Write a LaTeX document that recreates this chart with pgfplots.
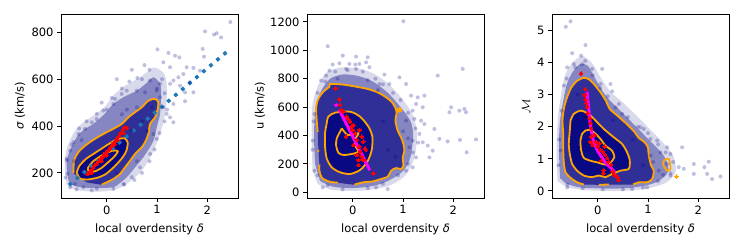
\documentclass[border=0pt]{standalone}
\usepackage{fontspec}
\setmainfont{DejaVu Sans}
\usepackage{pgfplots}
\pgfplotsset{compat=1.18}
\definecolor{navy}{HTML}{000080}
\definecolor{mplorange}{HTML}{FFA500}
\definecolor{tabblue}{HTML}{1F77B4}
\definecolor{mag}{HTML}{FF00FF}
\pgfplotsset{
  panel/.style={
    scale only axis, width=177pt, height=184pt, anchor=south west,
    xmin=-0.91, xmax=2.61, xtick={0,1,2},
    tick align=outside, major tick length=4pt,
    xtick pos=bottom, ytick pos=left,
    tick style={black, line width=0.9pt},
    axis line style={black, line width=0.9pt},
    tick label style={font=\fontsize{11.5}{13}\selectfont},
    label style={font=\fontsize{11.5}{13}\selectfont},
    /pgf/number format/assume math mode=true,
    /pgf/number format/1000 sep={},
    xlabel={local overdensity \textit{δ}},
    xlabel style={at={(axis description cs:0.5,-0.19)}, anchor=base},
  },
  env/.style={draw=none, fill=navy, fill opacity=#1, smooth, tension=0.5},
  cloud/.style={only marks, mark=*, mark size=2pt, mark options={line width=0pt, draw=navy, draw opacity=0, fill=navy, fill opacity=0.25}},
  cont/.style={mplorange, line width=1.8pt, smooth, tension=0.45, mark=none},
  reddots/.style={only marks, mark=*, mark size=1.8pt, mark options={line width=0pt, draw=red, fill=red}},
}
\begin{document}
\begin{tikzpicture}[x=1pt,y=1pt]
\useasboundingbox (0,0) rectangle (744,248);
% ---------------- Panel 1 ----------------
\begin{axis}[panel, at={(61pt,50pt)}, ymin=93, ymax=878, ytick={200,400,600,800},
  ylabel={\textit{σ} (km/s)}, ylabel style={at={(axis description cs:-0.232,0.5)}, anchor=center}]
\addplot[env=0.15] coordinates {(-0.8,150) (-0.84,230) (-0.8,300) (-0.66,370) (-0.5,410) (-0.3,440) (-0.05,480) (0.13,530) (0.35,570) (0.6,600) (0.8,630) (0.95,650) (1.15,620) (1.2,540) (1.15,440) (1.05,360) (0.9,280) (0.7,210) (0.5,170) (0.3,140) (0.1,125) (-0.2,120) (-0.55,125) (-0.72,135)};
\addplot[env=0.38] coordinates {(-0.76,167) (-0.8,230) (-0.76,281) (-0.6,352) (-0.45,385) (-0.27,409) (-0.05,450) (0.13,494) (0.35,525) (0.6,551) (0.8,585) (0.93,608) (1.06,580) (1.08,537) (1.06,452) (1.0,400) (0.93,338) (0.8,290) (0.73,267) (0.55,220) (0.4,182) (0.25,155) (0.13,139) (-0.2,135) (-0.53,139) (-0.7,150)};
\addplot[env=0.65] coordinates {(-0.664,199) (-0.650,252) (-0.565,288) (-0.431,316) (-0.266,341) (-0.068,366) (0.131,388) (0.298,409) (0.430,437) (0.563,459) (0.696,480) (0.827,508) (0.960,516) (1.026,501) (1.006,466) (0.960,437) (0.861,409) (0.827,366) (0.761,331) (0.696,310) (0.563,281) (0.463,252) (0.364,224) (0.264,196) (0.131,174) (0,160) (-0.1,150) (-0.4,160)};
\addplot[env=0.8] coordinates {(-0.597,201) (-0.545,230) (-0.411,260) (-0.213,288) (-0.014,316) (0.185,341) (0.350,348) (0.417,329) (0.384,291) (0.284,258) (0.151,227) (-0.014,196) (-0.179,180) (-0.378,172) (-0.531,176)};
\addplot[cloud] coordinates {(2.458,844) (1.955,804) (2.134,790) (2.187,796) (2.273,778) (1.007,727) (1.226,712) (1.358,700) (1.444,693) (1.908,729) (1.935,696) (1.126,672) (1.259,651) (1.590,651) (1.723,648) (1.855,636) (1.524,622) (1.425,608) (1.325,594) (1.060,580) (1.259,580) (1.458,572) (1.656,587) (1.557,544) (1.723,544) (1.557,506) (1.325,494) (1.126,480) (1.192,452) (1.325,416) (1.259,437) (1.060,523) (0.994,551) (0.861,594) (0.609,605) (0.762,544) (0.596,551) (0.397,551) (0.298,537) (0.165,516) (0.132,494) (-0.067,466) (-0.199,452) (-0.298,416) (-0.431,388) (-0.563,366) (-0.663,331) (-0.729,295) (-0.795,253) (-0.782,196) (0.994,345) (0.928,366) (0.861,281) (0.662,224) (0.497,182) (0.331,153) (0.132,132) (-0.199,132) (-0.464,139) (-0.630,153) (-0.729,139)
(-0.7,320) (-0.55,390) (-0.4,420) (-0.2,430) (0.0,470) (0.1,520) (0.3,560) (0.45,590) (0.7,600) (0.85,640) (1.1,600) (1.15,540) (1.2,470) (1.15,420) (1.05,370) (0.95,300) (0.85,250) (0.7,200) (0.55,170) (0.35,150) (-0.3,125) (-0.6,130) (-0.82,180) (-0.8,260) (0.2,600) (0.5,640) (0.75,660) (-0.1,500) (0.6,480) (0.3,450) (0.9,480) (1.0,560) (0.4,470) (0.7,420) (0.5,380) (-0.5,340) (-0.65,250) (0.6,250) (0.2,200) (0.8,380)};
\addplot[cont] coordinates {(-0.664,199) (-0.650,252) (-0.565,288) (-0.431,316) (-0.266,341) (-0.068,366) (0.131,388) (0.298,409) (0.430,437) (0.563,459) (0.696,480) (0.827,508) (0.960,516) (1.026,501) (1.006,466) (0.960,437) (0.861,409) (0.827,366) (0.761,331) (0.696,310) (0.563,281) (0.463,252) (0.364,224) (0.264,196) (0.131,174) (0,160) (-0.1,150)};
\addplot[cont] coordinates {(-0.597,201) (-0.545,230) (-0.411,260) (-0.213,288) (-0.014,316) (0.185,341) (0.350,348) (0.417,329) (0.384,291) (0.284,258) (0.151,227) (-0.014,196) (-0.179,180) (-0.378,172) (-0.531,176) (-0.597,201)};
\addplot[cont] coordinates {(-0.378,220) (-0.278,248) (-0.080,277) (0.119,295) (0.22,292) (0.151,270) (0.020,244) (-0.113,220) (-0.247,206) (-0.358,206) (-0.378,220)};
\addplot[reddots] coordinates {(-0.38,195) (-0.34,205) (-0.3,212) (-0.27,222) (-0.24,232) (-0.2,240) (-0.16,250) (-0.12,260) (-0.09,268) (-0.05,278) (-0.02,286) (0.02,294) (0.05,302) (0.08,310) (0.11,318) (0.14,328) (0.17,335) (0.2,345) (0.23,355) (0.26,365) (0.29,372) (0.32,385) (0.36,395) (0.4,392) (0.33,370) (0.15,320) (-0.1,250) (-0.3,200) (0.0,275) (0.22,340)};
\addplot[tabblue, line width=3.5pt, dash pattern=on 3.5pt off 5.7pt, mark=none] coordinates {(-0.75,148) (2.45,728)};
\end{axis}
% ---------------- Panel 2 ----------------
\begin{axis}[panel, at={(307pt,50pt)}, ymin=-40, ymax=1256, ytick={0,200,400,600,800,1000,1200},
  ylabel={u (km/s)}, ylabel style={at={(axis description cs:-0.266,0.5)}, anchor=center}]
\addplot[env=0.15] coordinates {(-0.8,150) (-0.82,400) (-0.8,620) (-0.68,760) (-0.5,850) (-0.2,880) (0.15,870) (0.45,830) (0.75,750) (1.0,650) (1.2,540) (1.28,400) (1.22,240) (1.05,120) (0.75,50) (0.4,20) (0.0,10) (-0.45,20) (-0.7,60)};
\addplot[env=0.38] coordinates {(-0.75,200) (-0.77,400) (-0.74,600) (-0.62,720) (-0.45,800) (-0.2,830) (0.1,820) (0.4,780) (0.7,700) (0.95,600) (1.15,500) (1.2,400) (1.15,250) (1.0,150) (0.7,80) (0.4,45) (0.0,30) (-0.4,40) (-0.65,80)};
\addplot[env=0.65] coordinates {(-0.696,423) (-0.716,505) (-0.729,587) (-0.696,650) (-0.597,704) (-0.464,744) (-0.451,763) (-0.199,759) (0.066,744) (0.298,728) (0.497,704) (0.662,669) (0.782,634) (0.848,594) (0.874,564) (0.848,505) (0.894,434) (0.961,387) (1.007,340) (1.027,293) (0.994,246) (1.007,188) (0.961,164) (0.861,171) (0.762,152) (0.696,110) (0.563,94) (0.397,77) (0.199,70) (0.033,54) (-0.298,68) (-0.464,75) (-0.610,101) (-0.663,152) (-0.663,195) (-0.683,293)};
\addplot[env=0.8] coordinates {(-0.518,486) (-0.485,533) (-0.352,561) (-0.054,568) (0.145,533) (0.311,463) (0.390,392) (0.377,298) (0.291,216) (0.145,157) (-0.054,129) (-0.253,141) (-0.418,176) (-0.518,239) (-0.551,322) (-0.551,416)};
\addplot[cloud] coordinates {(1.007,1205) (-0.497,1029) (-0.199,963) (0.066,956) (0.298,951) (-0.265,909) (-0.066,904) (0.132,904) (0.265,916) (-0.464,857) (-0.133,869) (0.066,869) (0.331,881) (0.629,829) (2.187,869) (1.690,822) (0.928,810) (1.060,763) (0.729,763) (0.530,763) (1.159,681) (1.292,669) (1.425,681) (1.392,599) (1.259,622) (1.192,575) (1.060,505) (1.226,517) (1.358,505) (1.425,481) (1.955,599) (1.922,564) (2.120,575) (2.220,587) (2.253,564) (1.624,446) (1.723,376) (1.325,411) (1.192,364) (1.392,352) (1.491,329) (1.888,359) (2.134,369) (2.452,373) (2.266,282) (1.524,246) (1.590,293) (1.259,246) (1.126,317) (1.192,176) (1.060,152) (0.696,23) (0.464,35) (-0.597,35) (-0.762,152) (-0.795,364) (-0.762,552) (-0.630,787) (-0.530,822)
(-0.8,300) (-0.78,500) (-0.7,700) (-0.55,780) (-0.35,850) (-0.1,860) (0.2,850) (0.45,800) (0.6,760) (0.8,700) (0.95,650) (1.1,560) (1.25,450) (1.3,350) (1.2,280) (1.1,200) (0.9,120) (0.6,60) (0.3,30) (-0.2,20) (-0.5,50) (-0.7,120) (0.5,720) (0.05,900) (-0.4,900) (1.0,430) (0.85,250) (1.1,380) (0.7,300) (0.6,500) (-0.3,800) (0.3,790)};
\addplot[cont] coordinates {(-0.696,423) (-0.716,505) (-0.729,587) (-0.696,650) (-0.597,704) (-0.464,744) (-0.451,763) (-0.199,759) (0.066,744) (0.298,728) (0.497,704) (0.662,669) (0.782,634) (0.848,594) (0.874,564) (0.848,505) (0.894,434) (0.961,387) (1.007,340) (1.027,293) (0.994,246) (1.007,188) (0.961,164) (0.861,171) (0.762,152) (0.696,110) (0.563,94) (0.397,77) (0.199,70) (0.033,54)};
\addplot[cont] coordinates {(-0.298,68) (-0.464,75) (-0.610,101) (-0.663,152) (-0.663,195)};
\addplot[cont] coordinates {(-0.69,283) (-0.683,300)};
\addplot[only marks, mark=*, mark size=2.2pt, mark options={line width=0pt, draw=mplorange, fill=mplorange}] coordinates {(0.93,580)};
\addplot[cont] coordinates {(-0.518,486) (-0.485,533) (-0.352,561) (-0.054,568) (0.145,533) (0.311,463) (0.390,392) (0.377,298) (0.291,216) (0.145,157) (-0.054,129) (-0.253,141) (-0.418,176) (-0.518,239) (-0.551,322) (-0.551,416) (-0.518,486)};
\addplot[cont] coordinates {(-0.219,451) (-0.099,404) (0.112,416) (0.046,373) (0.060,321) (0.112,286) (-0.020,270) (-0.187,263) (-0.286,279) (-0.332,333) (-0.318,380) (-0.252,427) (-0.219,451)};
\addplot[reddots] coordinates {(-0.339,733) (-0.266,655) (-0.253,615) (-0.219,580) (-0.186,568) (-0.120,533) (-0.087,514) (-0.054,498) (-0.021,463) (0.012,474) (-0.001,439) (0.132,439) (0.046,416) (0.178,392) (-0.133,394) (0.079,369) (0.211,357) (0.012,333) (0.132,322) (0.244,310) (0.145,286) (0.079,263) (0.178,251) (0.112,228) (0.211,228) (0.112,192) (0.410,134) (0.264,298)};
\addplot[mag, line width=3pt, mark=none] coordinates {(-0.27,582) (0.34,155)};
\addplot[only marks, mark=*, mark size=1.6pt, mark options={line width=0pt, draw=mag, fill=mag}] coordinates {(-0.33,617)};
\end{axis}
% ---------------- Panel 3 ----------------
\begin{axis}[panel, at={(552pt,50pt)}, ymin=-0.22, ymax=5.51, ytick={0,1,2,3,4,5},
  ylabel={$\mathcal{M}$}, ylabel style={at={(axis description cs:-0.147,0.5)}, anchor=center}]
\addplot[env=0.15] coordinates {(-0.8,0.3) (-0.82,1.2) (-0.8,2.1) (-0.75,2.8) (-0.65,3.6) (-0.5,4.0) (-0.3,4.2) (-0.1,3.95) (0.05,3.55) (0.25,3.1) (0.5,2.75) (0.8,2.3) (1.05,1.9) (1.3,1.5) (1.5,1.1) (1.55,0.6) (1.35,0.25) (0.9,0.05) (0.4,0.0) (-0.2,0.02) (-0.6,0.1)};
\addplot[env=0.38] coordinates {(-0.75,0.4) (-0.77,1.2) (-0.76,2.0) (-0.71,2.6) (-0.62,3.3) (-0.5,3.7) (-0.35,3.95) (-0.2,3.9) (-0.05,3.5) (0.1,3.1) (0.25,2.8) (0.45,2.5) (0.7,2.1) (0.95,1.7) (1.2,1.3) (1.35,1.0) (1.4,0.6) (1.2,0.3) (0.9,0.15) (0.5,0.08) (0.0,0.08) (-0.4,0.12) (-0.65,0.25)};
\addplot[env=0.65] coordinates {(-0.277,0.20) (-0.410,0.27) (-0.542,0.41) (-0.642,0.58) (-0.675,0.89) (-0.688,1.36) (-0.688,1.78) (-0.701,2.19) (-0.675,2.55) (-0.622,2.86) (-0.529,3.21) (-0.410,3.43) (-0.277,3.52) (-0.178,3.48) (-0.079,3.33) (0.041,3.10) (0.153,2.83) (0.240,2.55) (0.385,2.35) (0.571,2.09) (0.717,1.86) (0.816,1.65) (0.929,1.52) (0.995,1.36) (1.015,1.10) (1.061,0.79) (1.114,0.63) (1.081,0.37) (0.982,0.27) (0.816,0.27) (0.703,0.20) (0.22,0.20) (0.021,0.19)};
\addplot[env=0.8] coordinates {(-0.542,2.19) (-0.476,2.40) (-0.344,2.50) (-0.244,2.45) (-0.145,2.35) (-0.012,2.14) (0.120,1.93) (0.319,1.67) (0.485,1.46) (0.584,1.20) (0.637,0.95) (0.617,0.69) (0.452,0.63) (0.286,0.53) (0.153,0.43) (0.021,0.48) (-0.112,0.43) (-0.277,0.48) (-0.410,0.63) (-0.509,0.84) (-0.556,1.15) (-0.576,1.46) (-0.556,1.88)};
\addplot[cloud] coordinates {(-0.635,5.11) (-0.542,5.28) (-0.244,4.54) (-0.509,4.29) (-0.330,4.21) (-0.609,3.85) (-0.476,3.95) (-0.310,3.95) (-0.112,3.80) (0.087,3.80) (0.253,3.33) (0.054,3.33) (0.286,3.10) (0.419,2.71) (0.485,2.40) (0.849,1.98) (0.915,1.93) (1.181,1.57) (1.048,1.62) (1.380,1.36) (1.678,1.36) (1.446,1.15) (1.247,1.20) (1.611,0.74) (1.711,0.69) (1.910,0.84) (2.208,0.91) (2.122,0.74) (2.175,0.53) (2.440,0.45) (2.274,0.37) (1.910,0.53) (1.446,0.48) (1.214,0.63) (1.380,0.84) (0.982,0.11) (0.684,0.06) (-0.609,0.11) (-0.741,1.26) (-0.675,3.28)
(-0.78,0.8) (-0.77,1.6) (-0.72,2.5) (-0.62,3.5) (-0.45,3.85) (-0.25,4.05) (-0.1,3.6) (0.05,3.2) (0.2,2.95) (0.35,2.6) (0.6,2.3) (0.8,2.0) (1.0,1.8) (1.2,1.45) (1.35,1.2) (1.5,0.9) (1.45,0.55) (1.2,0.3) (0.9,0.1) (0.5,0.05) (0.1,0.05) (-0.3,0.08) (-0.6,0.2) (1.05,1.1) (0.9,0.8) (1.3,0.5) (0.7,1.6) (0.3,2.2) (-0.4,3.0) (1.1,0.9)};
\addplot[cont] coordinates {(-0.277,0.20) (-0.410,0.27) (-0.542,0.41) (-0.642,0.58) (-0.675,0.89) (-0.688,1.36) (-0.688,1.78) (-0.701,2.19) (-0.675,2.55) (-0.622,2.86) (-0.529,3.21) (-0.410,3.43) (-0.277,3.52) (-0.178,3.48) (-0.079,3.33) (0.041,3.10) (0.153,2.83) (0.240,2.55) (0.385,2.35) (0.571,2.09) (0.717,1.86) (0.816,1.65) (0.929,1.52) (0.995,1.36) (1.015,1.10) (1.061,0.79) (1.114,0.63) (1.081,0.37) (0.982,0.27) (0.816,0.27) (0.703,0.20)};
\addplot[cont] coordinates {(0.021,0.19) (0.22,0.20)};
\addplot[cont] coordinates {(1.313,0.95) (1.413,0.996) (1.446,0.69) (1.380,0.63) (1.300,0.82) (1.313,0.95)};
\addplot[only marks, mark=*, mark size=1.8pt, mark options={line width=0pt, draw=mplorange, fill=mplorange}] coordinates {(1.565,0.45)};
\addplot[cont] coordinates {(-0.542,2.19) (-0.476,2.40) (-0.344,2.50) (-0.244,2.45) (-0.145,2.35) (-0.012,2.14) (0.120,1.93) (0.319,1.67) (0.485,1.46) (0.584,1.20) (0.637,0.95) (0.617,0.69) (0.452,0.63) (0.286,0.53) (0.153,0.43) (0.021,0.48) (-0.112,0.43) (-0.277,0.48) (-0.410,0.63) (-0.509,0.84) (-0.556,1.15) (-0.576,1.46) (-0.556,1.88) (-0.542,2.19)};
\addplot[cont] coordinates {(-0.310,1.78) (-0.244,1.88) (-0.145,1.90) (-0.045,1.78) (0.054,1.62) (0.153,1.41) (0.280,1.26) (0.33,1.05) (0.253,0.89) (0.153,0.82) (-0.012,0.89) (-0.145,0.94) (-0.277,1.03) (-0.330,1.26) (-0.344,1.57) (-0.310,1.78)};
\addplot[reddots] coordinates {(-0.330,3.66) (-0.251,3.17) (-0.264,2.99) (-0.245,2.85) (-0.231,2.73) (-0.211,2.62) (-0.199,2.42) (-0.165,2.26) (-0.145,2.11) (-0.131,1.95) (-0.131,1.69) (-0.066,1.74) (-0.145,1.53) (-0.032,1.53) (-0.099,1.43) (0.0,1.38) (0.034,1.48) (0.054,1.28) (0.133,1.38) (0.099,1.22) (0.147,1.12) (0.187,1.02) (0.213,0.91) (0.068,0.94) (0.266,0.81) (0.119,0.65) (0.298,0.60) (0.332,0.50) (0.398,0.43) (0.41,0.34) (0.11,0.55)};
\addplot[mag, line width=3pt, mark=none, smooth] coordinates {(-0.211,3.09) (-0.199,2.83) (-0.179,2.57) (-0.165,2.31) (-0.145,2.05) (-0.119,1.80) (-0.080,1.53) (-0.012,1.28) (0.068,1.07) (0.167,0.86) (0.266,0.71) (0.346,0.57)};
\end{axis}
\end{tikzpicture}
\end{document}
